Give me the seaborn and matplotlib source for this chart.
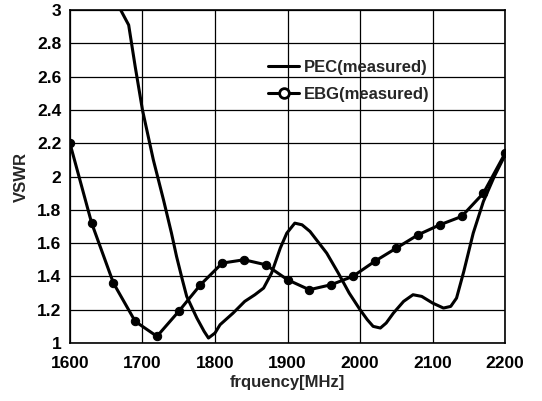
import numpy as np
import pandas as pd
import seaborn as sns
import matplotlib
matplotlib.use("Agg")
import matplotlib.pyplot as plt
from matplotlib.lines import Line2D

# PEC (measured) curve
pec_freq = [1670, 1681, 1690, 1700, 1715, 1729, 1740, 1747, 1755, 1761, 1775, 1785, 1791,
            1800, 1807, 1825, 1841, 1855, 1867, 1878, 1890, 1899, 1910, 1920, 1931, 1954,
            1970, 1985, 2000, 2010, 2018, 2028, 2036, 2046, 2060, 2073, 2085, 2100, 2115,
            2125, 2133, 2143, 2156, 2170, 2185, 2200]
pec_vswr = [3.00, 2.91, 2.66, 2.40, 2.10, 1.86, 1.66, 1.52, 1.38, 1.28, 1.15, 1.07, 1.03,
            1.06, 1.11, 1.18, 1.25, 1.29, 1.33, 1.42, 1.57, 1.66, 1.72, 1.71, 1.67, 1.54,
            1.42, 1.30, 1.20, 1.14, 1.10, 1.09, 1.12, 1.18, 1.25, 1.29, 1.28, 1.24, 1.21,
            1.22, 1.27, 1.43, 1.66, 1.85, 2.00, 2.13]

# EBG (measured) curve
ebg_freq = [1600, 1630, 1660, 1690, 1720, 1750, 1780, 1810, 1840, 1870, 1900, 1930, 1960,
            1990, 2020, 2050, 2080, 2110, 2140, 2170, 2200]
ebg_vswr = [2.20, 1.72, 1.36, 1.13, 1.04, 1.19, 1.35, 1.48, 1.50, 1.47, 1.38, 1.32, 1.35,
            1.40, 1.49, 1.57, 1.65, 1.71, 1.76, 1.90, 2.14]

x_ticks = [1600, 1700, 1800, 1900, 2000, 2100, 2200]
y_ticks = [1, 1.2, 1.4, 1.6, 1.8, 2, 2.2, 2.4, 2.6, 2.8, 3]
y_tick_labels = ["1", "1.2", "1.4", "1.6", "1.8", "2", "2.2", "2.4", "2.6", "2.8", "3"]

sns.set_theme(style="white")
plt.rcParams['font.family'] = ['Liberation Sans', 'DejaVu Sans']
plt.rcParams['font.weight'] = 'bold'

fig = plt.figure(figsize=(5.42, 4.01), dpi=100)
ax = fig.add_axes([0.129, 0.1446, 0.803, 0.8304])

pec_df = pd.DataFrame({"f": pec_freq, "v": pec_vswr})
ebg_df = pd.DataFrame({"f": ebg_freq, "v": ebg_vswr})

sns.lineplot(data=pec_df, x="f", y="v", ax=ax, color="black", linewidth=2.2, sort=False)
sns.lineplot(data=ebg_df, x="f", y="v", ax=ax, color="black", linewidth=2.2,
             marker="o", markersize=6, markerfacecolor="black", markeredgecolor="black",
             sort=False)

ax.set_xlim(1600, 2200)
ax.set_ylim(1, 3)
ax.set_xticks(x_ticks)
ax.set_xticklabels([str(t) for t in x_ticks], fontsize=12.5, fontweight="bold")
ax.set_yticks(y_ticks)
ax.set_yticklabels(y_tick_labels, fontsize=12.5, fontweight="bold")
ax.tick_params(axis="x", length=0, pad=9, colors="black")
ax.tick_params(axis="y", length=0, pad=6, colors="black")
ax.grid(True, color="black", linewidth=0.9)
for s in ax.spines.values():
    s.set_color("black")
    s.set_linewidth(1.2)

ax.set_xlabel("frquency[MHz]", fontsize=12, fontweight="bold", labelpad=3)
ax.set_ylabel("VSWR", fontsize=12, fontweight="bold", labelpad=6)

handles = [Line2D([0], [0], color="black", linewidth=2.2),
           Line2D([0], [0], color="black", linewidth=2.2, marker="o", markersize=7,
                  markerfacecolor="white", markeredgecolor="black", markeredgewidth=2)]
ax.legend(handles, ["PEC(measured)", "EBG(measured)"], loc="upper left",
          bbox_to_anchor=(0.42, 0.895), frameon=False, handlelength=1.9,
          handletextpad=0.25, labelspacing=0.7, prop={"size": 12, "weight": "bold"})

fig.savefig("out.png", dpi=100)
